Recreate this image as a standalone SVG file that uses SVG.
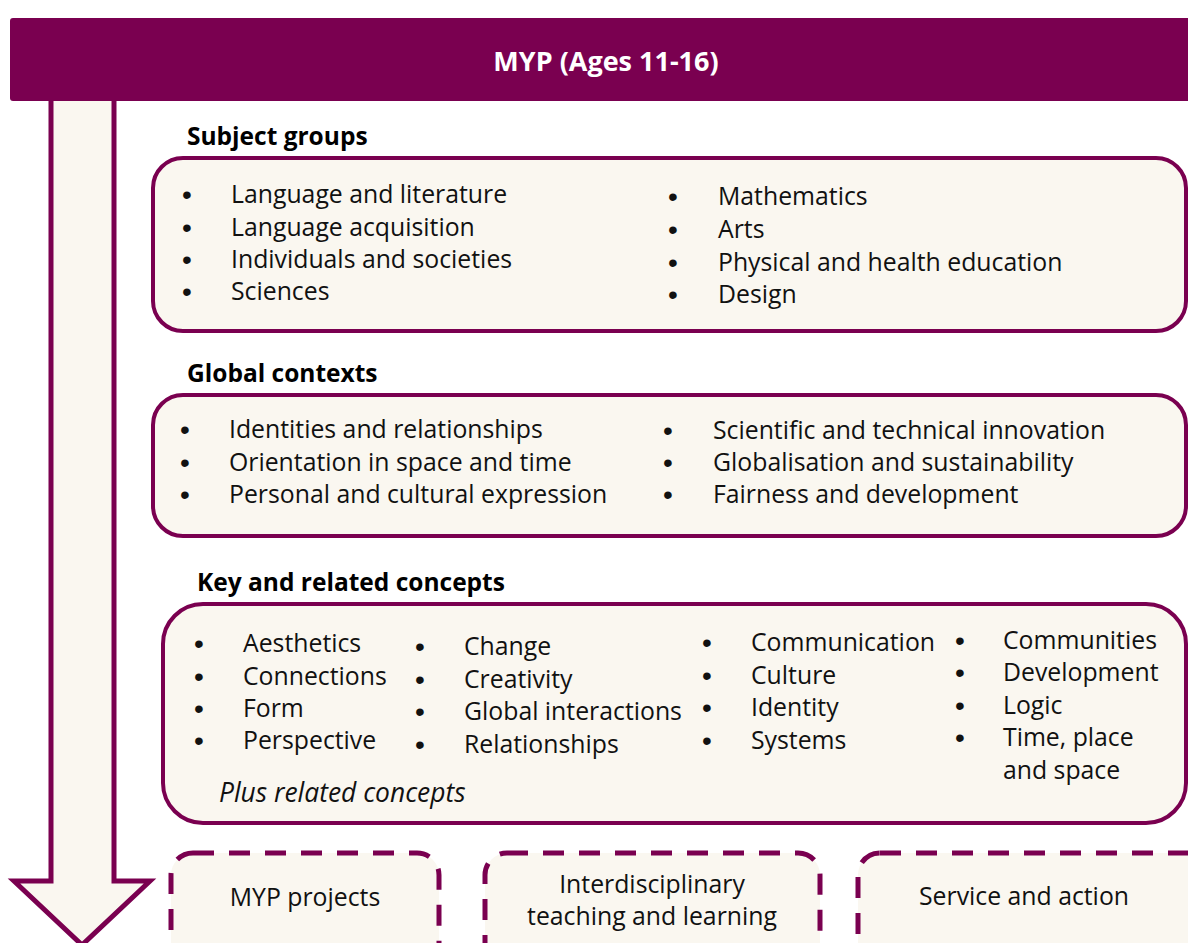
<svg xmlns="http://www.w3.org/2000/svg" width="1188" height="943" viewBox="0 0 1188 943">
<style>
.t{font-family:"Open Sans","Liberation Sans",sans-serif;font-size:24.8px;fill:#111}
.b{font-family:"Liberation Sans",Arial,sans-serif;font-size:28px;fill:#111}
.h{font-family:"Open Sans","Liberation Sans",sans-serif;font-size:24.5px;font-weight:bold;fill:#000}
.box{fill:#FAF7F0;stroke:#7A0050;stroke-width:4}
.dash{fill:#FAF7F0;stroke:#7A0050;stroke-width:5;stroke-dasharray:21 15}
.c{text-anchor:middle}
</style>
<rect width="1188" height="943" fill="#fff"/>
<g id="arrow">
<path d="M51 98 L51 881 L14 881 L82 945 L150 881 L114 881 L114 98" fill="#FAF7F0" stroke="#7A0050" stroke-width="5"/>
</g>
<g id="header">
<rect x="10" y="18" width="1190" height="83" rx="3" fill="#7A0050"/>
<text x="606" y="71" class="h c" style="fill:#fff;font-size:27px">MYP (Ages 11-16)</text>
</g>
<g id="subject-groups">
<text x="187" y="145" class="h">Subject groups</text>
<rect x="153" y="158" width="1033" height="173" rx="30" class="box"/>
<g class="b">
<text x="182" y="204">•</text><text x="182" y="237">•</text><text x="182" y="269">•</text><text x="182" y="301">•</text>
<text x="668" y="206">•</text><text x="668" y="239">•</text><text x="668" y="272">•</text><text x="668" y="304">•</text>
</g>
<g class="t">
<text x="231" y="203">Language and literature</text>
<text x="231" y="236">Language acquisition</text>
<text x="231" y="268">Individuals and societies</text>
<text x="231" y="300">Sciences</text>
<text x="718" y="205">Mathematics</text>
<text x="718" y="238">Arts</text>
<text x="718" y="271">Physical and health education</text>
<text x="718" y="303">Design</text>
</g>
</g>
<g id="global-contexts">
<text x="187" y="382" class="h">Global contexts</text>
<rect x="153" y="395" width="1033" height="141" rx="30" class="box"/>
<g class="b">
<text x="180" y="439">•</text><text x="180" y="472">•</text><text x="180" y="504">•</text>
<text x="663" y="440">•</text><text x="663" y="472">•</text><text x="663" y="504">•</text>
</g>
<g class="t">
<text x="229" y="438">Identities and relationships</text>
<text x="229" y="471">Orientation in space and time</text>
<text x="229" y="503">Personal and cultural expression</text>
<text x="713" y="439">Scientific and technical innovation</text>
<text x="713" y="471">Globalisation and sustainability</text>
<text x="713" y="503">Fairness and development</text>
</g>
</g>
<g id="key-concepts">
<text x="197" y="591" class="h">Key and related concepts</text>
<rect x="163" y="604" width="1023" height="219" rx="40" class="box"/>
<g class="b">
<text x="194" y="653">•</text><text x="194" y="686">•</text><text x="194" y="718">•</text><text x="194" y="750">•</text>
<text x="415" y="656">•</text><text x="415" y="689">•</text><text x="415" y="721">•</text><text x="415" y="754">•</text>
<text x="702" y="652">•</text><text x="702" y="685">•</text><text x="702" y="717">•</text><text x="702" y="750">•</text>
<text x="955" y="650">•</text><text x="955" y="682">•</text><text x="955" y="715">•</text><text x="955" y="747">•</text>
</g>
<g class="t">
<text x="243" y="652">Aesthetics</text>
<text x="243" y="685">Connections</text>
<text x="243" y="717">Form</text>
<text x="243" y="749">Perspective</text>
<text x="464" y="655">Change</text>
<text x="464" y="688">Creativity</text>
<text x="464" y="720">Global interactions</text>
<text x="464" y="753">Relationships</text>
<text x="751" y="651">Communication</text>
<text x="751" y="684">Culture</text>
<text x="751" y="716">Identity</text>
<text x="751" y="749">Systems</text>
<text x="1003" y="649">Communities</text>
<text x="1003" y="681">Development</text>
<text x="1003" y="714">Logic</text>
<text x="1003" y="746">Time, place</text>
<text x="1003" y="779">and space</text>
<text x="219" y="802" font-style="italic" style="font-size:26.4px">Plus related concepts</text>
</g>
</g>
<g id="myp-projects">
<rect x="171" y="853" width="268" height="120" rx="22" class="dash"/>
<text x="305" y="906" class="t c">MYP projects</text>
</g>
<g id="interdisciplinary">
<rect x="485" y="853" width="335" height="120" rx="22" class="dash"/>
<text x="652" y="893" class="t c">Interdisciplinary</text>
<text x="652" y="925" class="t c">teaching and learning</text>
</g>
<g id="service-action">
<rect x="858" y="853" width="360" height="120" rx="22" class="dash"/>
<text x="1024" y="905" class="t c">Service and action</text>
</g>
<g id="connectors"></g>
</svg>
